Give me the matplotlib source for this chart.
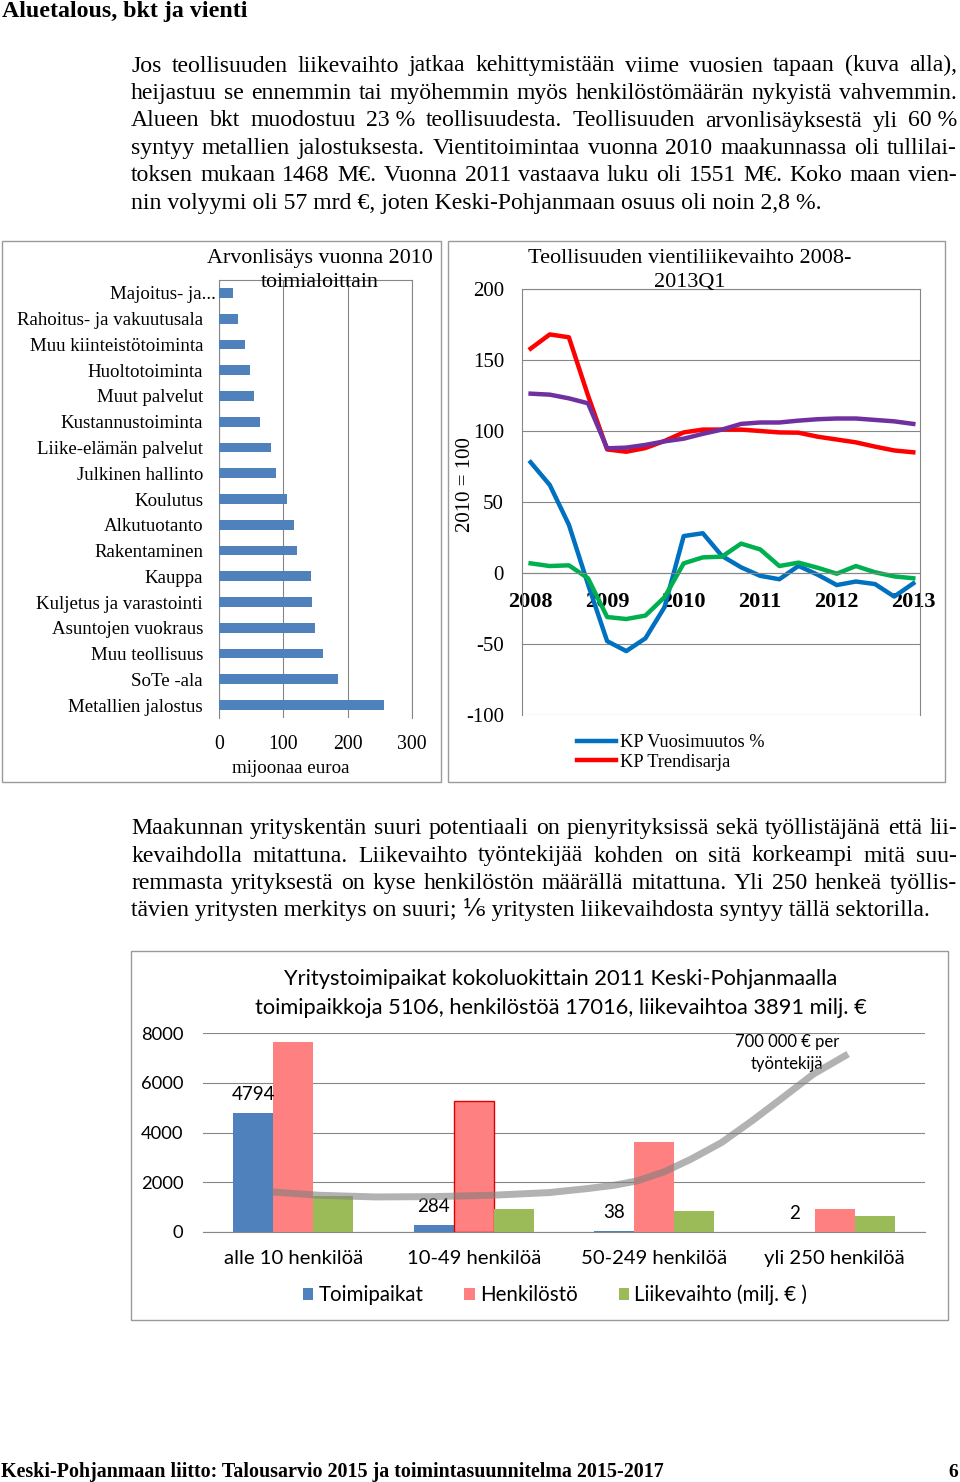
import numpy as np
import matplotlib
matplotlib.use('Agg')
import matplotlib.pyplot as plt
from matplotlib.patches import Rectangle

W, H = 960, 1482
SERIF = ['Liberation Serif', 'DejaVu Serif']
SANS = ['Lato', 'DejaVu Sans']
GRID = '#868686'
plt.rcParams['font.family'] = SERIF
plt.rcParams['axes.unicode_minus'] = False

# --- tekstit ---
otsikko = 'Aluetalous, bkt ja vienti'
kappale1 = [
    'Jos teollisuuden liikevaihto jatkaa kehittymistään viime vuosien tapaan (kuva alla),',
    'heijastuu se ennemmin tai myöhemmin myös henkilöstömäärän nykyistä vahvemmin.',
    'Alueen bkt muodostuu 23\u00a0% teollisuudesta. Teollisuuden arvonlisäyksestä yli 60\u00a0%',
    'syntyy metallien jalostuksesta. Vientitoimintaa vuonna 2010 maakunnassa oli tullilai-',
    'toksen mukaan 1468 M€. Vuonna 2011 vastaava luku oli 1551 M€. Koko maan vien-',
    'nin volyymi oli 57 mrd €, joten Keski-Pohjanmaan osuus oli noin 2,8 %.',
]
kappale2 = [
    'Maakunnan yrityskentän suuri potentiaali on pienyrityksissä sekä työllistäjänä että lii-',
    'kevaihdolla mitattuna. Liikevaihto työntekijää kohden on sitä korkeampi mitä suu-',
    'remmasta yrityksestä on kyse henkilöstön määrällä mitattuna. Yli 250 henkeä työllis-',
    'tävien yritysten merkitys on suuri; ⅙ yritysten liikevaihdosta syntyy tällä sektorilla.',
]
alaviite = 'Keski-Pohjanmaan liitto: Talousarvio 2015 ja toimintasuunnitelma 2015-2017'

# --- kuva 1: arvonlisäys toimialoittain (milj. €) ---
ala_nimet = ['Majoitus- ja...', 'Rahoitus- ja vakuutusala', 'Muu kiinteistötoiminta',
             'Huoltotoiminta', 'Muut palvelut', 'Kustannustoiminta',
             'Liike-elämän palvelut', 'Julkinen hallinto', 'Koulutus', 'Alkutuotanto',
             'Rakentaminen', 'Kauppa', 'Kuljetus ja varastointi', 'Asuntojen vuokraus',
             'Muu teollisuus', 'SoTe -ala', 'Metallien jalostus']
ala_arvot = [22, 30, 41, 47.5, 54, 63.5, 80.5, 88, 106, 117, 121, 142.5, 144.5,
             148.7, 161, 185, 257]

# --- kuva 2: teollisuuden vientiliikevaihto, neljännekset 2008Q1-2013Q1 ---
vuodet = ['2008', '2009', '2010', '2011', '2012', '2013']
kp_vuosimuutos = [78, 62, 34, -8, -48, -55, -46, -24, 26, 28, 12, 4, -2, -4.4, 5,
                  -1.2, -8.5, -6, -7.8, -16.6, -7.3]
kp_trendi = [158, 168, 166, 125, 87, 85.4, 88, 93, 99, 101, 101, 101, 100, 99, 98.8,
             96, 94, 92, 89, 86.3, 85]
violetti = [126.3, 125.6, 123, 119.5, 87.8, 88.3, 90.2, 92.7, 94.6, 98, 101, 105, 106,
            106, 107.3, 108.3, 108.8, 108.8, 107.8, 106.8, 105]
vihrea = [6.8, 4.9, 5.4, -3.7, -31, -32.4, -30, -17, 6.8, 11, 11.5, 20.7, 16.6, 4.9,
          7.3, 3.7, -0.5, 4.9, 0.5, -2.4, -3.7]

# --- kuva 3: yritystoimipaikat kokoluokittain ---
koko_luokat = ['alle 10 henkilöä', '10-49 henkilöä', '50-249 henkilöä', 'yli 250 henkilöä']
toimipaikat = [4794, 284, 38, 2]
henkilosto = [7620, 5280, 3600, 910]
liikevaihto = [1450, 910, 860, 640]
# käsin piirretty käyrä (luokka-akselin kohta, arvo)
kayra_x = [-0.118, 0.141, 0.46, 0.779, 1.098, 1.417, 1.629, 1.778, 1.905, 2.054, 2.203,
           2.373, 2.542, 2.713, 2.882, 3.074]
kayra_y = [1611, 1477, 1409, 1423, 1477, 1584, 1745, 1879, 2054, 2416, 2926, 3597,
           4470, 5409, 6349, 7154]

fig = plt.figure(figsize=(W / 100, H / 100), dpi=100)
rend = fig.canvas.get_renderer()


def T(x, y, s, **kw):
    return fig.text(x / W, 1 - y / H, s, **kw)


def fit(x, y, s, leveys, **kw):
    t = T(x, y, s, fontsize=12, **kw)
    w = t.get_window_extent(rend).width
    t.set_fontsize(12 * leveys / w)
    return t


def kappale(rivit, rivivalit, x0, x1, viim_leveys):
    t = T(x0, 0, rivit[-1], fontsize=12)
    koko = 12 * viim_leveys / t.get_window_extent(rend).width
    t.remove()
    for i, (r, yb) in enumerate(zip(rivit, rivivalit)):
        if i == len(rivit) - 1:
            T(x0, yb, r, fontsize=koko, va='baseline')
            continue
        sanat = r.split(' ')
        arts = [T(0, yb, s, fontsize=koko, va='baseline') for s in sanat]
        lev = [a.get_window_extent(rend).width for a in arts]
        vali = (x1 - x0 - sum(lev)) / (len(sanat) - 1)
        x = x0
        for a, w in zip(arts, lev):
            a.set_x(x / W)
            x += w + vali


def laatikko(x0, y0, x1, y1):
    fig.add_artist(Rectangle((x0 / W, 1 - y1 / H), (x1 - x0) / W, (y1 - y0) / H,
                             transform=fig.transFigure, fill=False,
                             edgecolor='#9a9a9a', lw=1))


# otsikko, leipäteksti, alaviite
fit(2, 17, otsikko, 243, fontweight='bold', va='baseline')
kappale(kappale1, [71.5, 99, 126.5, 154, 181, 208.5], 131, 957, 692)
kappale(kappale2, [834, 861.5, 889, 916], 131, 957, 800)
fit(1, 1477, alaviite, 661, fontweight='bold', va='baseline')
T(958, 1477, '6', fontsize=14, fontweight='bold', ha='right', va='baseline')

# ---------- kuva 1 ----------
laatikko(2, 241, 441, 782)
ax1 = fig.add_axes([219 / W, 1 - 718 / H, (412 - 219) / W, (718 - 280) / H])
yy = np.arange(len(ala_nimet))
ax1.barh(yy, ala_arvot, height=0.38, color='#4F81BD', zorder=3)
ax1.set_ylim(len(ala_nimet) - 0.5, -0.5)
ax1.set_xlim(0, 300)
ax1.set_xticks([0, 100, 200, 300])
ax1.set_yticks(yy, ala_nimet)
ax1.tick_params(length=0)
ax1.tick_params(axis='y', pad=11.5, labelsize=13.6)
ax1.tick_params(axis='x', pad=12, labelsize=14.2)
ax1.get_yticklabels()[0].set_x(13 / 193)
ax1.grid(axis='x', color=GRID, lw=0.8)
ax1.set_axisbelow(True)
ax1.spines['bottom'].set_visible(False)
for s in ['top', 'left', 'right']:
    ax1.spines[s].set_color(GRID)
    ax1.spines[s].set_linewidth(0.8)
t = fit(320, 263, 'Arvonlisäys vuonna 2010', 226, ha='center', va='baseline')
T(320, 287, 'toimialoittain', fontsize=t.get_fontsize(), ha='center', va='baseline')
fit(291, 773, 'mijoonaa euroa', 118, ha='center', va='baseline')

# ---------- kuva 2 ----------
laatikko(448, 241, 945, 782)
ax2 = fig.add_axes([522 / W, 1 - 715 / H, (920 - 522) / W, (715 - 289) / H])
xq = np.arange(len(kp_vuosimuutos))
l_sin, = ax2.plot(xq, kp_vuosimuutos, color='#0070C0', lw=3.2, solid_joinstyle='round')
l_pun, = ax2.plot(xq, kp_trendi, color='#FF0000', lw=3.2, solid_joinstyle='round')
ax2.plot(xq, violetti, color='#7030A0', lw=3.2, solid_joinstyle='round')
ax2.plot(xq, vihrea, color='#00B050', lw=3.2, solid_joinstyle='round')
ax2.set_ylim(-100, 200)
ax2.set_yticks(np.arange(-100, 201, 50))
ax2.set_xlim(-0.45, 20.35)
ax2.spines['bottom'].set_position(('data', 0))
ax2.set_xticks(xq[::4])
ax2.set_xticklabels(vuodet, fontweight='bold', fontsize=16)
ax2.tick_params(length=0)
ax2.tick_params(axis='y', pad=13, labelsize=15)
ax2.tick_params(axis='x', pad=13.5)
ax2.grid(axis='y', color=GRID, lw=0.8)
ax2.set_axisbelow(True)
for s in ax2.spines.values():
    s.set_color(GRID)
    s.set_linewidth(0.8)
t = fit(690, 263, 'Teollisuuden vientiliikevaihto 2008-', 323, ha='center', va='baseline')
T(690, 287, '2013Q1', fontsize=t.get_fontsize(), ha='center', va='baseline')
T(465, 485, '2010 = 100', fontsize=15, rotation=90, ha='center', va='center')
ax2.legend([l_sin, l_pun], ['KP Vuosimuutos %', 'KP Trendisarja'], loc='upper left',
           bbox_to_anchor=(577 / W, 1 - 734 / H), bbox_transform=fig.transFigure,
           frameon=False, fontsize=13.2, handlelength=2.1, handletextpad=0.25,
           borderpad=0, borderaxespad=0, labelspacing=0.15)

# ---------- kuva 3 ----------
laatikko(131, 951, 948, 1320)
ax3 = fig.add_axes([203 / W, 1 - 1232 / H, (925 - 203) / W, (1232 - 1033) / H])
xk = np.arange(len(koko_luokat))
lw_bar = 0.222
b1 = ax3.bar(xk - lw_bar, toimipaikat, lw_bar, color='#4F81BD', zorder=3)
b2 = ax3.bar(xk, henkilosto, lw_bar, color='#FF8080', zorder=3)
b2[1].set_edgecolor('#E00000')
b2[1].set_linewidth(1)
b3 = ax3.bar(xk + lw_bar, liikevaihto, lw_bar, color='#9BBB59', zorder=3)
ax3.bar_label(b1, labels=[str(v) for v in toimipaikat], padding=7, fontsize=13.5,
              family=SANS)
ax3.plot(kayra_x, kayra_y, color='#7f7f7f', alpha=0.6, lw=5, zorder=4,
         solid_capstyle='butt', solid_joinstyle='round')
ax3.set_xlim(-0.5, 3.5)
ax3.set_ylim(0, 8000)
ax3.set_yticks(np.arange(0, 8001, 2000))
ax3.set_xticks(xk, koko_luokat)
for lab in ax3.get_xticklabels() + ax3.get_yticklabels():
    lab.set_family(SANS)
ax3.tick_params(length=0, labelsize=13.2)
ax3.tick_params(axis='x', labelsize=14.6)
ax3.tick_params(axis='y', pad=14)
ax3.tick_params(axis='x', pad=13)
ax3.grid(axis='y', color=GRID, lw=0.8)
ax3.set_axisbelow(True)
for s in ['top', 'left', 'right']:
    ax3.spines[s].set_visible(False)
ax3.spines['bottom'].set_color(GRID)
ax3.text(2.734, 7638, '700 000 € per', ha='center', va='center', fontsize=12,
         family=SANS)
ax3.text(2.734, 6754, 'työntekijä', ha='center', va='center', fontsize=12, family=SANS)
t = fit(561, 1014, 'toimipaikkoja 5106, henkilöstöä 17016, liikevaihtoa 3891 milj. €',
        610, ha='center', va='baseline', family=SANS)
T(561, 985, 'Yritystoimipaikat kokoluokittain 2011 Keski-Pohjanmaalla',
  fontsize=t.get_fontsize(), ha='center', va='baseline', family=SANS)
ax3.legend([b1, b2, b3], ['Toimipaikat', 'Henkilöstö', 'Liikevaihto (milj. € )'],
           loc='center', bbox_to_anchor=(555 / W, 1 - 1295 / H),
           bbox_transform=fig.transFigure, ncol=3, frameon=False,
           prop={'family': SANS, 'size': 14.8}, handlelength=0.5, handleheight=0.5,
           handletextpad=0.25, columnspacing=2.0, borderpad=0)

fig.savefig('out.png', dpi=100)
